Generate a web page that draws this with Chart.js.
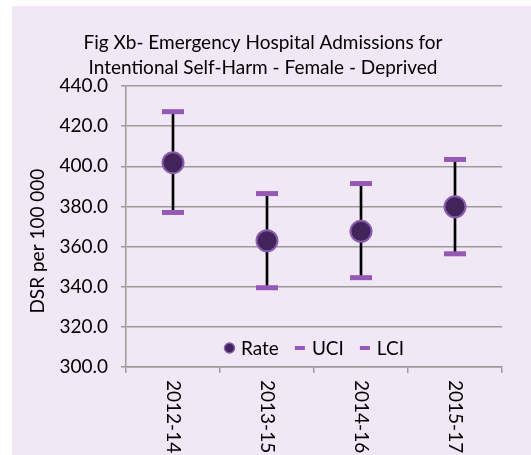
<!DOCTYPE html>
<html>
<head>
<meta charset="utf-8">
<script src="https://cdn.jsdelivr.net/npm/chart.js@4"></script>
<style>
  html, body { margin: 0; padding: 0; background: #ffffff; }
  #wrap { position: absolute; left: 12px; top: 6px; width: 519px; height: 449px; background: #F0E9F5; }
  canvas { display: block; }
</style>
</head>
<body>
<div id="wrap"><canvas id="chart" width="519" height="449"></canvas></div>
<script>
// values
const periods = ['2012-14', '2013-15', '2014-16', '2015-17'];
const rate = [401.8, 362.9, 367.6, 379.8];
const uci = [427.2, 386.4, 391.4, 403.4];
const lci = [377.0, 339.5, 344.5, 356.4];
const yTicks = [300, 320, 340, 360, 380, 400, 420, 440];

const gridGrey = '#9b9b9b';
const capPurple = '#9558B5';
const dotFill = '#41245A';
const dotEdge = '#8B5BB0';
const fontFamily = 'Lato, "Open Sans", sans-serif';

Chart.defaults.font.family = fontFamily;
Chart.defaults.font.size = 19;
Chart.defaults.color = '#000';

// x labels in the reference read top-to-bottom, so draw them ourselves
const xLabels = {
    id: 'xLabels',
    afterDraw(chart) {
        const ctx = chart.ctx;
        const xs = chart.scales.x;
        ctx.save();
        ctx.font = '19px ' + fontFamily;
        ctx.fillStyle = '#000';
        ctx.textAlign = 'left';
        ctx.textBaseline = 'middle';
        periods.forEach((p, i) => {
            ctx.save();
            ctx.translate(xs.getPixelForTick(i), xs.top + 13);
            ctx.rotate(Math.PI / 2);
            ctx.fillText(p, 0, 0);
            ctx.restore();
        });
        ctx.restore();
    }
};

// legend sits inside the plot area near the bottom
const innerLegend = {
    id: 'innerLegend',
    afterDraw(chart) {
        const ctx = chart.ctx;
        const area = chart.chartArea;
        const items = chart.data.datasets.filter(d => d.inLegend);
        ctx.save();
        ctx.font = '19px ' + fontFamily;
        ctx.textBaseline = 'middle';
        ctx.textAlign = 'left';
        const markW = 11, gap = 6, spacing = 16;
        const widths = items.map(d => markW + gap + ctx.measureText(d.label).width);
        const total = widths.reduce((a, b) => a + b, 0) + spacing * (items.length - 1);
        let x = (area.left + area.right) / 2 - total / 2;
        const y = area.bottom - 19;
        items.forEach((d, i) => {
            if (d.pointStyle === 'circle') {
                ctx.beginPath();
                ctx.arc(x + markW / 2, y, 5, 0, Math.PI * 2);
                ctx.fillStyle = dotFill;
                ctx.fill();
                ctx.lineWidth = 1.5;
                ctx.strokeStyle = dotEdge;
                ctx.stroke();
            } else {
                ctx.fillStyle = capPurple;
                ctx.fillRect(x, y - 2, markW - 1, 4);
            }
            ctx.fillStyle = '#000';
            ctx.fillText(d.label, x + markW + gap, y + 1);
            x += widths[i] + spacing;
        });
        ctx.restore();
    }
};

const ctx = document.getElementById('chart');
new Chart(ctx, {
    type: 'line',
    data: {
        labels: periods,
        datasets: [
            {
                label: 'Rate',
                inLegend: true,
                data: rate,
                showLine: false,
                pointStyle: 'circle',
                pointRadius: 10.5,
                pointBackgroundColor: dotFill,
                pointBorderColor: dotEdge,
                pointBorderWidth: 2,
                order: 1
            },
            {
                label: 'UCI',
                inLegend: true,
                data: uci,
                showLine: false,
                pointStyle: 'line',
                pointRadius: 11,
                pointBorderWidth: 5,
                pointBorderColor: capPurple,
                order: 2
            },
            {
                label: 'LCI',
                inLegend: true,
                data: lci,
                showLine: false,
                pointStyle: 'line',
                pointRadius: 11,
                pointBorderWidth: 5,
                pointBorderColor: capPurple,
                order: 2
            },
            {
                // whisker between LCI and UCI
                type: 'bar',
                label: 'range',
                data: lci.map((l, i) => [l, uci[i]]),
                backgroundColor: '#000',
                barThickness: 2,
                order: 3
            }
        ]
    },
    options: {
        responsive: false,
        animation: false,
        events: [],
        layout: { padding: { left: 0, right: 17, top: 0, bottom: 0 } },
        plugins: {
            legend: { display: false },
            tooltip: { enabled: false },
            title: {
                display: true,
                text: ['Fig Xb- Emergency Hospital Admissions for', 'Intentional Self-Harm - Female - Deprived'],
                font: { size: 19, weight: 'normal', lineHeight: '25px' },
                color: '#000',
                padding: { top: 24, bottom: 6 }
            }
        },
        scales: {
            x: {
                offset: true,
                grid: { offset: true, drawOnChartArea: false, drawTicks: true, tickLength: 6, color: gridGrey, lineWidth: 1.5 },
                border: { display: true, color: gridGrey, width: 1.5 },
                ticks: { color: 'transparent', maxRotation: 90, minRotation: 90 },
                afterFit(s) { s.height = 88; }
            },
            y: {
                min: yTicks[0],
                max: yTicks[yTicks.length - 1],
                afterBuildTicks(s) { s.ticks = yTicks.map(v => ({ value: v })); },
                ticks: { padding: 13, callback: v => v.toFixed(1) },
                grid: { color: gridGrey, lineWidth: 1.5, tickLength: 5 },
                border: { display: true, color: gridGrey, width: 1.5 },
                title: { display: true, text: 'DSR per 100 000      ', font: { size: 19 }, padding: { top: 14, bottom: 0 } },
                afterFit(s) { s.width = 114; }
            },
            // empty spacer on the right so the title centres like the reference
            yRight: {
                position: 'right',
                display: true,
                grid: { drawOnChartArea: false, drawTicks: false },
                border: { display: false },
                ticks: { display: false },
                afterFit(s) { s.width = 12; }
            }
        }
    },
    plugins: [xLabels, innerLegend]
});
</script>
</body>
</html>
